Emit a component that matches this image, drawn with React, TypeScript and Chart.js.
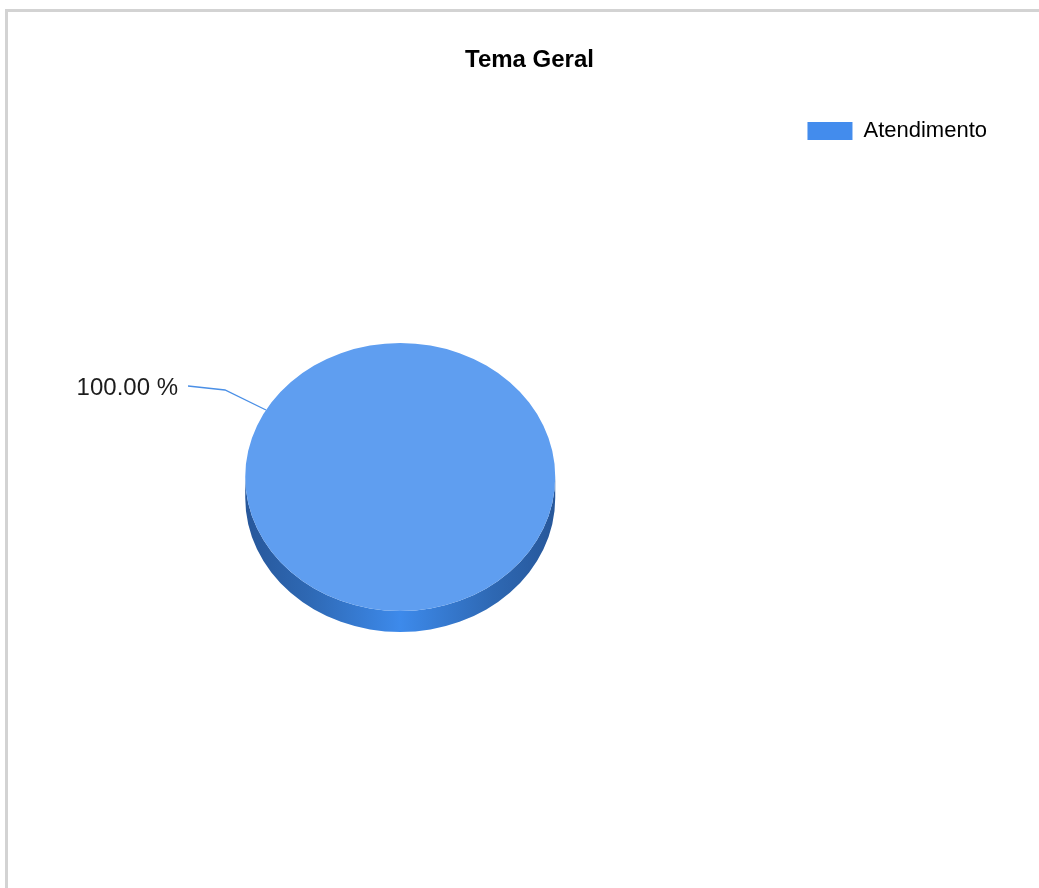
import React, { useEffect, useRef } from "react";
import { Chart, registerables } from "chart.js";

Chart.register(...registerables);

// ---- data ----
const TITLE = "Tema Geral";
const categories = ["Atendimento"];
const values = [100];

// ---- styles ----
const sliceColors = ["#5f9ef0"];
const legendColors = ["#438ced"];
const sideCenterColors = ["#3d8aeb"];
const sideEdgeColors = ["#27579a"];
const FONT = "'Liberation Sans', Arial, sans-serif";

const TILT = 134 / 155; // vertical squash of the pie
const DEPTH = 21; // 3D thickness (px)
const LABEL_ANGLE = (210 * Math.PI) / 180;

export default function App() {
  const ref = useRef<HTMLCanvasElement>(null);

  useEffect(() => {
    const canvas = ref.current;
    if (!canvas) return;

    const pie3d = {
      id: "pie3d",
      beforeDatasetsDraw(chart: any) {
        const ctx = chart.ctx as CanvasRenderingContext2D;
        const meta = chart.getDatasetMeta(0);
        if (!meta.data.length) return;
        // draw the visible side wall (lower half) of each slice
        meta.data.forEach((arc: any, i: number) => {
          const { x, y, outerRadius, startAngle, endAngle } = arc.getProps(
            ["x", "y", "outerRadius", "startAngle", "endAngle"],
            true
          );
          const R = outerRadius;
          const g = ctx.createLinearGradient(x - R, 0, x + R, 0);
          g.addColorStop(0, sideEdgeColors[i]);
          g.addColorStop(0.2, "#2e68b3");
          g.addColorStop(0.5, sideCenterColors[i]);
          g.addColorStop(0.8, "#2e68b3");
          g.addColorStop(1, sideEdgeColors[i]);
          for (let n = -1; n <= 2; n++) {
            const lo = Math.max(startAngle, 2 * Math.PI * n);
            const hi = Math.min(endAngle, 2 * Math.PI * n + Math.PI);
            if (hi <= lo) continue;
            ctx.save();
            ctx.beginPath();
            ctx.ellipse(x, y, R, R * TILT, 0, lo, hi, false);
            ctx.ellipse(x, y + DEPTH, R, R * TILT, 0, hi, lo, true);
            ctx.closePath();
            ctx.fillStyle = g;
            ctx.fill();
            ctx.restore();
          }
        });
        // squash the top face into an ellipse
        const c = meta.data[0];
        ctx.save();
        ctx.translate(c.x, c.y);
        ctx.scale(1, TILT);
        ctx.translate(-c.x, -c.y);
      },
      afterDatasetsDraw(chart: any) {
        const ctx = chart.ctx as CanvasRenderingContext2D;
        const meta = chart.getDatasetMeta(0);
        if (!meta.data.length) return;
        ctx.restore();
        const data = chart.data.datasets[0].data as number[];
        const total = data.reduce((a, b) => a + b, 0);
        meta.data.forEach((arc: any, i: number) => {
          const { x, y, outerRadius } = arc.getProps(["x", "y", "outerRadius"], true);
          const pct = ((data[i] / total) * 100).toFixed(2) + " %";
          const ax = x + outerRadius * Math.cos(LABEL_ANGLE);
          const ay = y + outerRadius * TILT * Math.sin(LABEL_ANGLE);
          const bx = ax - 41;
          const by = ay - 20;
          const ex = bx - 37;
          const ey = by - 4;
          ctx.save();
          ctx.strokeStyle = "#4a8fe6";
          ctx.lineWidth = 1.3;
          ctx.beginPath();
          ctx.moveTo(ax, ay);
          ctx.lineTo(bx, by);
          ctx.lineTo(ex, ey);
          ctx.stroke();
          ctx.fillStyle = "#1c1c1c";
          ctx.font = `24px ${FONT}`;
          ctx.textAlign = "right";
          ctx.textBaseline = "middle";
          ctx.fillText(pct, ex - 10, ey + 2);
          ctx.restore();
        });
      },
    };

    const chart = new Chart(canvas, {
      type: "pie",
      data: {
        labels: categories,
        datasets: [
          {
            data: values,
            backgroundColor: sliceColors,
            borderWidth: 0,
            radius: 155,
          } as any,
        ],
      },
      options: {
        responsive: false,
        animation: false,
        events: [],
        layout: { padding: { left: 62, right: 42, top: 51, bottom: 19 } },
        plugins: {
          tooltip: { enabled: false },
          title: {
            display: true,
            text: TITLE,
            color: "#000",
            font: { family: FONT, size: 24, weight: "bold", lineHeight: 16 / 24 },
            padding: { top: 1, bottom: 17 },
          },
          legend: {
            display: true,
            position: "right",
            align: "start",
            fullSize: true,
            labels: {
              boxWidth: 45,
              boxHeight: 18,
              padding: 69,
              color: "#222",
              font: { family: FONT, size: 22 },
              generateLabels: () =>
                categories.map((c, i) => ({
                  text: c,
                  fillStyle: legendColors[i],
                  strokeStyle: legendColors[i],
                  lineWidth: 0,
                  hidden: false,
                  index: i,
                })),
            },
          },
        },
      } as any,
      plugins: [pie3d],
    });

    return () => chart.destroy();
  }, []);

  return (
    <div
      style={{
        position: "fixed",
        left: 0,
        top: 0,
        width: 1039,
        height: 888,
        overflow: "hidden",
        background: "#fff",
      }}
    >
      <div
        style={{
          position: "absolute",
          left: 5,
          top: 9,
          width: 2000,
          height: 2000,
          borderTop: "3px solid #d3d3d3",
          borderLeft: "3px solid #d3d3d3",
        }}
      />
      <canvas
        ref={ref}
        width={1039}
        height={888}
        style={{ position: "absolute", left: 0, top: 0, display: "block" }}
      />
    </div>
  );
}
